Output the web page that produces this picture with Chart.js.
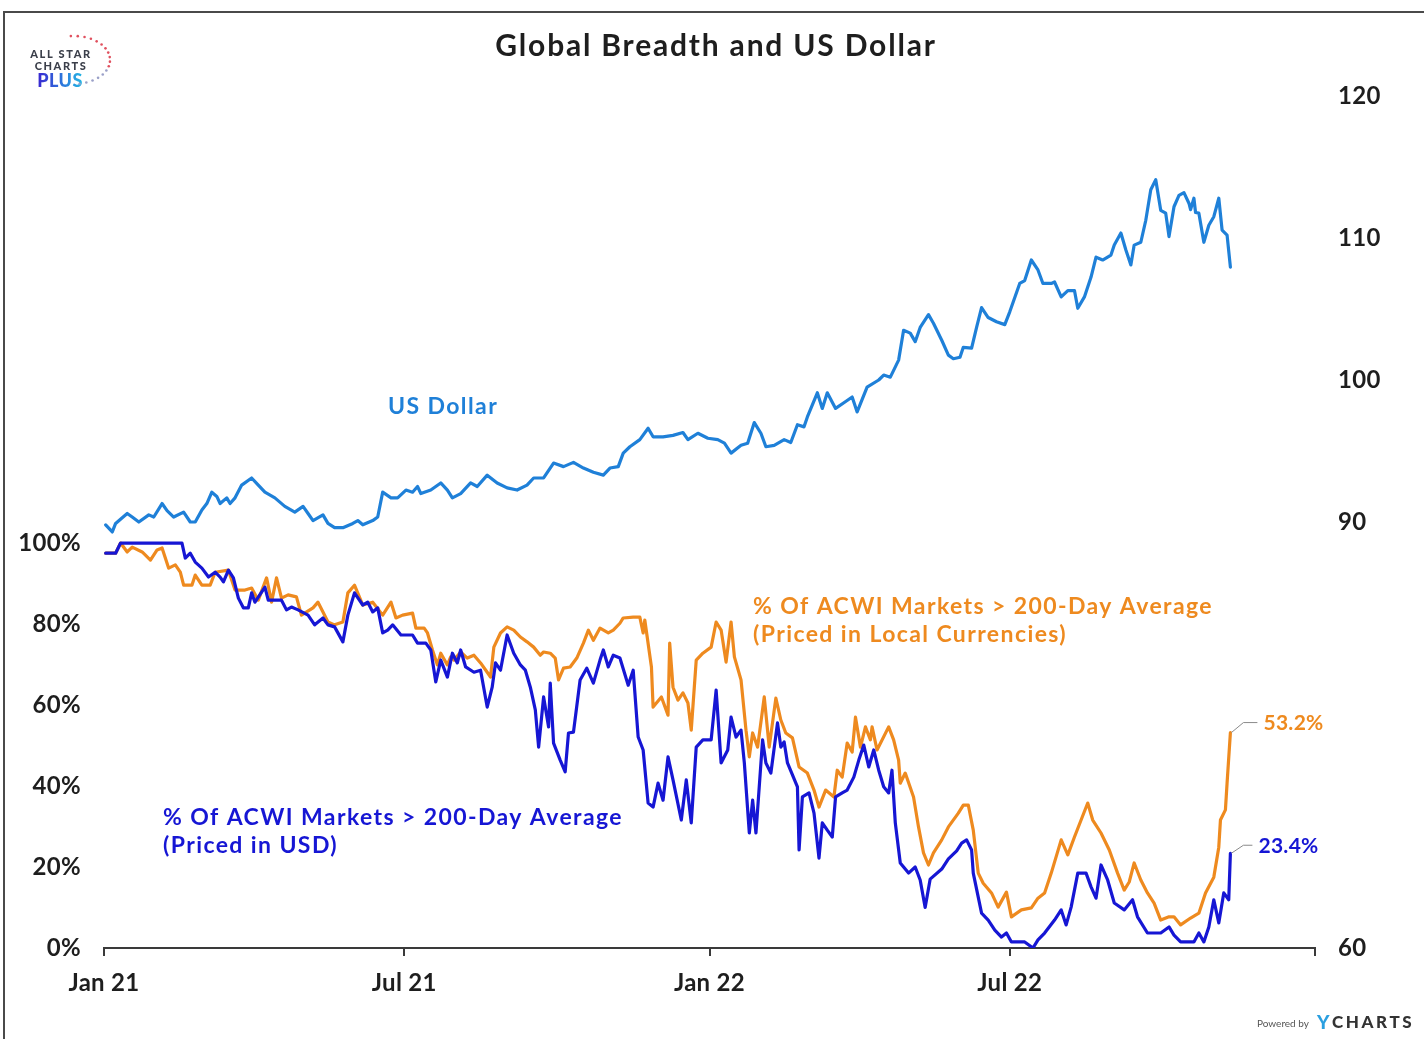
<!DOCTYPE html>
<html>
<head>
<meta charset="utf-8">
<title>Global Breadth and US Dollar</title>
<script src="https://cdn.jsdelivr.net/npm/chart.js@4.4.1/dist/chart.umd.min.js"></script>
<style>
  html, body { margin: 0; padding: 0; background: #ffffff; }
  #wrap { position: relative; width: 1424px; height: 1039px; }
</style>
</head>
<body>
<div id="wrap"><canvas id="chart"></canvas></div>
<script>
// x values are days counted from 1 Jan 2021
const tickDays = [0, 181, 365, 546, 730];
const tickLabels = ['Jan 21', 'Jul 21', 'Jan 22', 'Jul 22', ''];
const dollarTicks = [60, 90, 100, 110, 120];
const breadthTicks = [0, 20, 40, 60, 80, 100];

// US Dollar index
const dollarDays = [1,5,7,11,14,17,21,27,30,35,38,42,48,52,55,59,62,65,68,70,74,76,79,83,89,93,97,103,109,115,120,123,126,132,135,139,144,150,153,156,162,165,168,173,177,182,186,189,191,197,203,207,210,215,221,225,231,237,243,249,255,259,265,271,277,283,289,295,301,305,310,313,317,323,328,331,337,343,349,352,358,364,370,374,378,384,388,392,396,399,404,410,414,418,422,424,430,433,436,441,446,451,454,460,467,470,474,479,482,486,489,492,497,500,505,509,512,516,518,523,526,529,533,538,543,546,552,555,559,563,566,571,573,577,581,585,587,591,595,598,602,607,609,613,616,619,621,625,628,631,634,637,640,642,645,648,651,654,655,657,658,660,663,666,669,672,674,677,679];
const dollarValues = [89.8,89.3,89.9,90.3,90.6,90.35,90.0,90.5,90.35,91.3,90.8,90.35,90.7,90.0,90.0,90.85,91.3,92.1,91.8,91.3,91.7,91.3,91.7,92.6,93.1,92.6,92.1,91.7,91.1,90.7,91.1,90.6,90.1,90.5,89.9,89.6,89.6,89.9,90.1,89.8,90.1,90.35,92.1,91.7,91.7,92.25,92.1,92.5,92.0,92.25,92.75,92.25,91.7,92.0,92.75,92.5,93.3,92.75,92.4,92.25,92.6,93.1,93.1,94.15,93.9,94.2,93.8,93.5,93.3,93.8,93.9,94.85,95.3,95.8,96.6,96.0,96.0,96.1,96.3,95.8,96.25,95.9,95.8,95.55,94.85,95.4,95.55,97.0,96.25,95.3,95.4,95.8,95.6,96.85,96.7,97.4,99.1,98.0,99.1,98.0,98.4,98.8,97.75,99.5,100.0,100.35,100.2,101.4,103.5,103.3,102.7,103.7,104.6,104.0,102.8,101.75,101.5,101.6,102.3,102.25,103.7,105.1,104.4,104.1,103.9,104.8,106.8,107.0,108.45,107.75,106.8,106.8,106.9,105.85,106.3,106.3,105.05,105.85,107.25,108.65,108.45,108.8,109.5,110.35,109.15,108.1,109.5,109.7,111.25,113.4,114.1,111.95,111.75,110.1,112.2,113.0,113.2,112.45,112.0,112.8,111.8,111.75,109.7,110.9,111.5,112.8,110.55,110.2,107.95];

// % of ACWI markets above their 200-day average, priced in USD
const usdDays = [1,7,10,47,49,52,55,59,63,67,70,72,75,78,81,84,87,89,91,95,97,99,107,110,113,117,123,127,132,135,139,144,147,151,156,159,162,165,168,171,174,179,186,189,194,197,200,203,207,210,213,215,218,223,227,231,234,236,239,243,247,251,254,257,260,262,265,268,269,271,275,278,280,283,287,291,295,299,301,304,307,311,316,319,322,325,328,331,334,337,340,343,348,351,354,357,361,366,369,372,376,378,381,384,386,389,391,393,397,399,402,406,408,410,412,418,419,421,425,428,431,433,436,439,441,445,448,452,455,458,461,464,467,470,473,475,477,480,485,489,492,495,498,505,509,514,517,520,523,524,529,533,537,541,544,547,555,560,563,567,573,577,580,583,587,592,595,598,601,605,609,615,620,623,629,637,642,645,649,657,660,663,666,669,672,675,678,679];
const usdValues = [97.5,97.5,100,100,96.3,97.5,95.3,93.8,91.6,92.8,91.6,90.4,93.3,91.4,86.4,84,84,87.7,85.4,87.9,89.1,85.9,85.9,83.5,84.2,83.5,82.2,79.8,81.5,79.8,79.3,75.6,82.2,87.7,84.7,85.4,83,84,77.8,78.5,79.8,77.3,77.3,75.3,75.3,73.6,65.7,71.1,66.9,72.8,70.4,73.6,69.4,68.1,68.6,59.5,64.4,70.4,68.6,77.3,72.8,69.9,68.6,64.4,58.8,49.6,62,54.6,65.4,50.6,46.4,43.5,53.1,53.3,66.2,69.1,65.4,71.1,73.6,69.4,72.3,71.6,64.9,68.6,52.1,48.9,35.8,34.8,40.7,36.5,47.2,41.5,31.6,41.5,30.9,49.6,51.4,51.4,63.7,45.7,48.9,57,52.1,53.8,45.7,28.4,36.5,28.4,51.4,45.7,43.2,55.6,49.6,50.9,45.7,39.8,24.2,37.3,38.3,33.3,22.2,30.9,29.1,27.4,37.3,38.3,39,42.2,46.4,50.1,44.7,48.9,43.9,39.8,38.3,43.9,30.9,21,18.5,20,16.8,10,17,19.5,22,24,25.9,26.7,24.2,18.5,8.6,6.9,4.4,2.7,3.7,1.5,1.5,0,2,3.7,6.9,9.4,5.7,10.1,18.5,18.5,15.1,12.3,20.5,16.8,11.1,9.4,11.9,7.7,3.7,3.7,5.2,3.2,1.5,1.5,3.7,1.5,5.2,11.9,6.2,13.6,11.9,23.4];

// % of ACWI markets above their 200-day average, priced in local currencies
const localDays = [1,7,10,14,17,23,28,32,35,39,43,46,48,53,55,59,64,67,75,79,85,89,93,98,101,104,107,111,116,119,126,129,132,135,139,144,147,151,156,162,168,173,176,180,186,188,193,195,198,201,203,207,209,211,215,219,223,227,231,233,235,239,243,247,251,255,259,263,265,269,272,274,277,281,285,289,292,295,299,304,307,311,313,319,323,325,326,330,331,336,340,341,343,346,349,352,354,357,361,366,369,372,375,378,380,384,387,389,391,394,398,401,405,408,411,415,419,424,428,431,435,440,442,445,448,451,453,456,459,462,463,466,473,476,479,480,483,488,491,494,497,500,505,509,515,518,521,524,527,530,535,539,544,547,553,559,563,567,571,577,581,585,589,593,596,601,606,611,615,618,621,625,629,633,637,642,645,649,655,660,664,669,672,673,676,677,679];
const localValues = [97.5,97.5,100,97.8,99,97.8,95.8,98.3,98.8,93.8,94.6,92.8,89.6,89.6,92.1,89.6,89.6,92.8,93.3,88.4,88.4,88.9,85.9,91.4,85.4,91.4,86.4,87.2,86.7,82.2,84,85.4,83,80.5,79.8,80.5,87.7,89.6,84.7,85.4,82.2,85.4,81.5,82.2,82.7,79,79,77.8,73.6,69.9,72.8,69.9,71.9,71.1,73.1,71.6,72.3,70.4,68.1,66.9,74.3,77.8,79.3,78.5,76.8,75.6,74.3,72.3,73.1,72.8,71.6,66.2,69.1,69.4,71.6,75.3,78.5,76,79,77.8,78.5,80.2,81.5,81.7,81.7,77.8,81,69.4,59.5,62,57.5,75.3,64.4,61.2,63,60.5,53.8,71.1,72.8,74.3,80.5,78.5,70.6,80.5,71.9,66.2,53.8,47.2,53.1,49.6,62,49.6,61.7,56.3,53.1,51.9,44.7,43.2,39,34.8,39,37.3,43.9,42.2,50.6,48.4,57,49.6,54.6,51.4,54.6,48.9,54.6,51.4,46.4,40.7,43.2,37.3,29.9,23.5,20.5,23.5,26.7,29.9,33.3,35.3,35.3,29.1,18.5,16,13.6,10.1,13.8,7.7,9.4,9.9,12.3,13.6,18.5,26.7,23,27.4,31.6,35.8,31.6,28.4,24.2,18.5,14.3,16.3,21,16.8,13.6,11.1,6.9,7.7,7.7,5.7,7.4,8.6,13.6,17.5,24.9,31.6,34.1,40.7,53.2];

const COLORS = {
  dollar: '#1f80d8',
  usd: '#1616d4',
  local: '#ee8a1f',
  text: '#1e1e1e',
  axis: '#3a3a3a'
};
const FONT = 'Lato, "Open Sans", "Noto Sans", sans-serif';

function pairs(days, values) {
  return days.map((d, i) => ({ x: d, y: values[i] }));
}

// a little extra tracking for the axis labels
const tracking = {
  id: 'tracking',
  beforeDraw(chart) { chart.ctx.letterSpacing = '0.3px'; },
  afterDraw(chart) { chart.ctx.letterSpacing = '0px'; }
};

// titles, series notes, end-value callouts and branding
const decorations = {
  id: 'decorations',
  afterDraw(chart) {
    const ctx = chart.ctx;
    const xs = chart.scales.x;
    const yb = chart.scales.yBreadth;
    ctx.save();

    // frame
    ctx.strokeStyle = '#4a4a4a';
    ctx.lineWidth = 2;
    ctx.beginPath();
    ctx.moveTo(4, 1039);
    ctx.lineTo(4, 12);
    ctx.lineTo(1424, 12);
    ctx.stroke();

    // title
    ctx.fillStyle = COLORS.text;
    ctx.textAlign = 'center';
    ctx.textBaseline = 'middle';
    ctx.letterSpacing = '1.8px';
    ctx.font = `700 30px ${FONT}`;
    ctx.fillText('Global Breadth and US Dollar', 716, 46);

    // logo
    ctx.textAlign = 'center';
    ctx.fillStyle = '#3b3f4a';
    ctx.letterSpacing = '1.6px';
    ctx.font = `900 11px ${FONT}`;
    ctx.fillText('ALL STAR', 61, 54);
    ctx.fillText('CHARTS', 61, 66);
    ctx.letterSpacing = '0.5px';
    const grad = ctx.createLinearGradient(36, 0, 86, 0);
    grad.addColorStop(0, '#3a22d0');
    grad.addColorStop(1, '#22c2e6');
    ctx.fillStyle = grad;
    ctx.font = `900 18px ${FONT}`;
    ctx.fillText('PLUS', 60, 81);
    for (let i = 0; i <= 16; i++) {
      const a = (-95 + i * 11) * Math.PI / 180;
      const px = 74 + 36 * Math.cos(a);
      const py = 60 + 24 * Math.sin(a);
      ctx.fillStyle = i < 11 ? '#e0505e' : '#9aa0c8';
      ctx.beginPath();
      ctx.arc(px, py, 1.3, 0, Math.PI * 2);
      ctx.fill();
    }

    // series notes
    ctx.textAlign = 'left';
    ctx.letterSpacing = '1.4px';
    ctx.font = `700 23px ${FONT}`;
    ctx.fillStyle = COLORS.dollar;
    ctx.fillText('US Dollar', 388, 407);
    ctx.fillStyle = COLORS.local;
    ctx.fillText('% Of ACWI Markets > 200-Day Average', 753, 607);
    ctx.fillText('(Priced in Local Currencies)', 753, 635);
    ctx.fillStyle = COLORS.usd;
    ctx.fillText('% Of ACWI Markets > 200-Day Average', 163, 818);
    ctx.fillText('(Priced in USD)', 163, 846);

    // end-value callouts
    const ends = [
      { days: localDays, values: localValues, color: COLORS.local, dy: -10, dx: 33 },
      { days: usdDays, values: usdValues, color: COLORS.usd, dy: -8, dx: 28 }
    ];
    ctx.letterSpacing = '0.3px';
    ctx.font = `700 21px ${FONT}`;
    ends.forEach(e => {
      const n = e.days.length - 1;
      const v = e.values[n];
      const px = xs.getPixelForValue(e.days[n]);
      const py = yb.getPixelForValue(v);
      ctx.strokeStyle = '#8a8a8a';
      ctx.lineWidth = 1;
      ctx.beginPath();
      ctx.moveTo(px + 1, py);
      ctx.lineTo(px + 13, py + e.dy);
      ctx.lineTo(px + e.dx - 6, py + e.dy);
      ctx.stroke();
      ctx.fillStyle = e.color;
      ctx.fillText(v.toFixed(1) + '%', px + e.dx, py + e.dy + 1);
    });

    // branding
    ctx.textAlign = 'left';
    ctx.letterSpacing = '0px';
    ctx.fillStyle = '#555';
    ctx.font = `400 10px ${FONT}`;
    ctx.fillText('Powered by', 1257, 1024);
    ctx.fillStyle = '#2a9fe0';
    ctx.font = `900 19px ${FONT}`;
    ctx.fillText('Y', 1317, 1023);
    ctx.fillStyle = '#333';
    ctx.letterSpacing = '2.6px';
    ctx.font = `900 17px ${FONT}`;
    ctx.fillText('CHARTS', 1332, 1023);
    ctx.letterSpacing = '0px';

    ctx.restore();
  }
};

const tickFont = { family: FONT, size: 24, weight: '700' };

new Chart(document.getElementById('chart'), {
  type: 'line',
  data: {
    datasets: [
      {
        label: '% Of ACWI Markets > 200-Day Average (Priced in USD)',
        data: pairs(usdDays, usdValues),
        yAxisID: 'yBreadth',
        borderColor: COLORS.usd,
        borderWidth: 3.2,
        order: 1
      },
      {
        label: '% Of ACWI Markets > 200-Day Average (Priced in Local Currencies)',
        data: pairs(localDays, localValues),
        yAxisID: 'yBreadth',
        borderColor: COLORS.local,
        borderWidth: 3.2,
        order: 2
      },
      {
        label: 'US Dollar',
        data: pairs(dollarDays, dollarValues),
        yAxisID: 'yDollar',
        borderColor: COLORS.dollar,
        borderWidth: 3.2,
        order: 3
      }
    ]
  },
  options: {
    responsive: true,
    maintainAspectRatio: false,
    animation: false,
    parsing: false,
    elements: {
      point: { radius: 0, hoverRadius: 0 },
      line: { tension: 0, borderJoinStyle: 'round', borderCapStyle: 'round' }
    },
    layout: { padding: { top: 96, left: 0, right: 0, bottom: 0 } },
    plugins: {
      legend: { display: false },
      title: { display: false },
      tooltip: { enabled: false }
    },
    scales: {
      x: {
        type: 'linear',
        min: 0,
        max: 730,
        afterFit(s) { s.height = 91; },
        afterBuildTicks(s) { s.ticks = tickDays.map(v => ({ value: v })); },
        grid: { display: true, drawOnChartArea: false, drawTicks: true, tickLength: 8, color: COLORS.axis, lineWidth: 2 },
        border: { display: true, color: COLORS.axis, width: 2 },
        ticks: {
          autoSkip: false,
          maxRotation: 0,
          padding: 13,
          color: COLORS.text,
          font: tickFont,
          callback: v => tickLabels[tickDays.indexOf(v)]
        }
      },
      yBreadth: {
        type: 'linear',
        position: 'left',
        min: 0,
        max: 210.4,
        afterFit(s) { s.width = 104; },
        afterBuildTicks(s) { s.ticks = breadthTicks.map(v => ({ value: v })); },
        grid: { display: false, drawTicks: false },
        border: { display: false },
        ticks: {
          padding: 23,
          color: COLORS.text,
          font: tickFont,
          callback: v => v + '%'
        }
      },
      yDollar: {
        type: 'linear',
        position: 'right',
        min: 60,
        max: 120,
        afterFit(s) { s.width = 109; },
        afterBuildTicks(s) { s.ticks = dollarTicks.map(v => ({ value: v })); },
        grid: { display: false, drawTicks: false },
        border: { display: false },
        ticks: {
          padding: 23,
          color: COLORS.text,
          font: tickFont
        }
      }
    }
  },
  plugins: [tracking, decorations]
});
</script>
</body>
</html>
